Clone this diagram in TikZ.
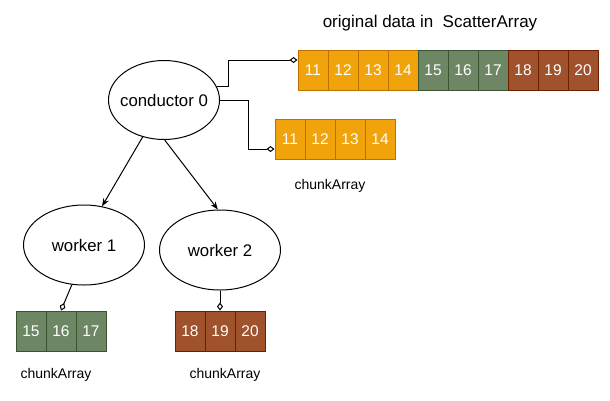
\documentclass[tikz,border=0pt]{standalone}
\usepackage{fontspec}
\setmainfont{Liberation Sans}
\usetikzlibrary{arrows.meta,shapes.geometric,calc}
\definecolor{orfill}{HTML}{F0A30A}
\definecolor{ordraw}{HTML}{BD7000}
\definecolor{grfill}{HTML}{6D8764}
\definecolor{grdraw}{HTML}{3A5431}
\definecolor{brfill}{HTML}{A0522D}
\definecolor{brdraw}{HTML}{6D1F00}
\begin{document}
\begin{tikzpicture}[x=1pt,y=-1pt,
  cell/.style={rectangle,minimum width=30pt,minimum height=40pt,inner sep=0pt,text=white,font=\fontsize{15.5}{18}\selectfont,line width=1pt},
  ocell/.style={cell,fill=orfill,draw=ordraw},
  gcell/.style={cell,fill=grfill,draw=grdraw},
  bcell/.style={cell,fill=brfill,draw=brdraw},
  proc/.style={ellipse,draw,line width=1pt,inner sep=0pt,minimum width=121pt,minimum height=80pt},
  ptext/.style={font=\fontsize{16.8}{20}\selectfont},
  link/.style={draw,line width=1pt,-{Diamond[open,length=8pt,width=6pt]}},
  flow/.style={draw,line width=1pt,-{Stealth[length=8pt,width=6pt]}},
  lbl/.style={font=\fontsize{14}{17}\selectfont}]
\useasboundingbox (0,0) rectangle (610,400);
% title
\node[font=\fontsize{17}{20}\selectfont] (title) at (430,23) {original data in\ \ ScatterArray};
% processes
\node[proc,minimum width=111pt,minimum height=79pt,label={[ptext]center:conductor 0}] (c) at (164,100) {};
\node[proc,label={[ptext]center:worker 1}] (w1) at (84,245) {};
\node[proc,label={[ptext]center:worker 2}] (w2) at (220,250) {};
% top array
\foreach \v/\s [count=\i from 0] in {11/ocell,12/ocell,13/ocell,14/ocell,15/gcell,16/gcell,17/gcell,18/bcell,19/bcell,20/bcell}
  \node[\s] (a\v) at (313+30*\i,70) {\v};
% conductor chunk
\foreach \v [count=\i from 0] in {11,12,13,14}
  \node[ocell] (k\v) at (290+30*\i,139) {\v};
% worker chunks
\foreach \v [count=\i from 0] in {15,16,17}
  \node[gcell] (g\v) at (31+30*\i,331) {\v};
\foreach \v [count=\i from 0] in {18,19,20}
  \node[bcell] (b\v) at (190+30*\i,331) {\v};
% labels
\node[lbl] (l1) at (330,186) {chunkArray};
\node[lbl] (l2) at (56,375) {chunkArray};
\node[lbl] (l3) at (225,375) {chunkArray};
% connectors
\coordinate (t1) at ($(a11.west)+(0,-10)$);
\coordinate (t2) at ($(k11.west)+(0,10)$);
\draw[link] (c.14) -- ++(12,0) |- (t1);
\draw[link] (c.east) -- ++(28,0) |- (t2);
\draw[flow] (c.-120) -- (w1.65);
\draw[flow] (c.-89) -- (w2.93);
\draw[link] (w1.-107) -- (g16.north);
\draw[link] (w2.south) -- (b19.north);
\end{tikzpicture}
\end{document}
